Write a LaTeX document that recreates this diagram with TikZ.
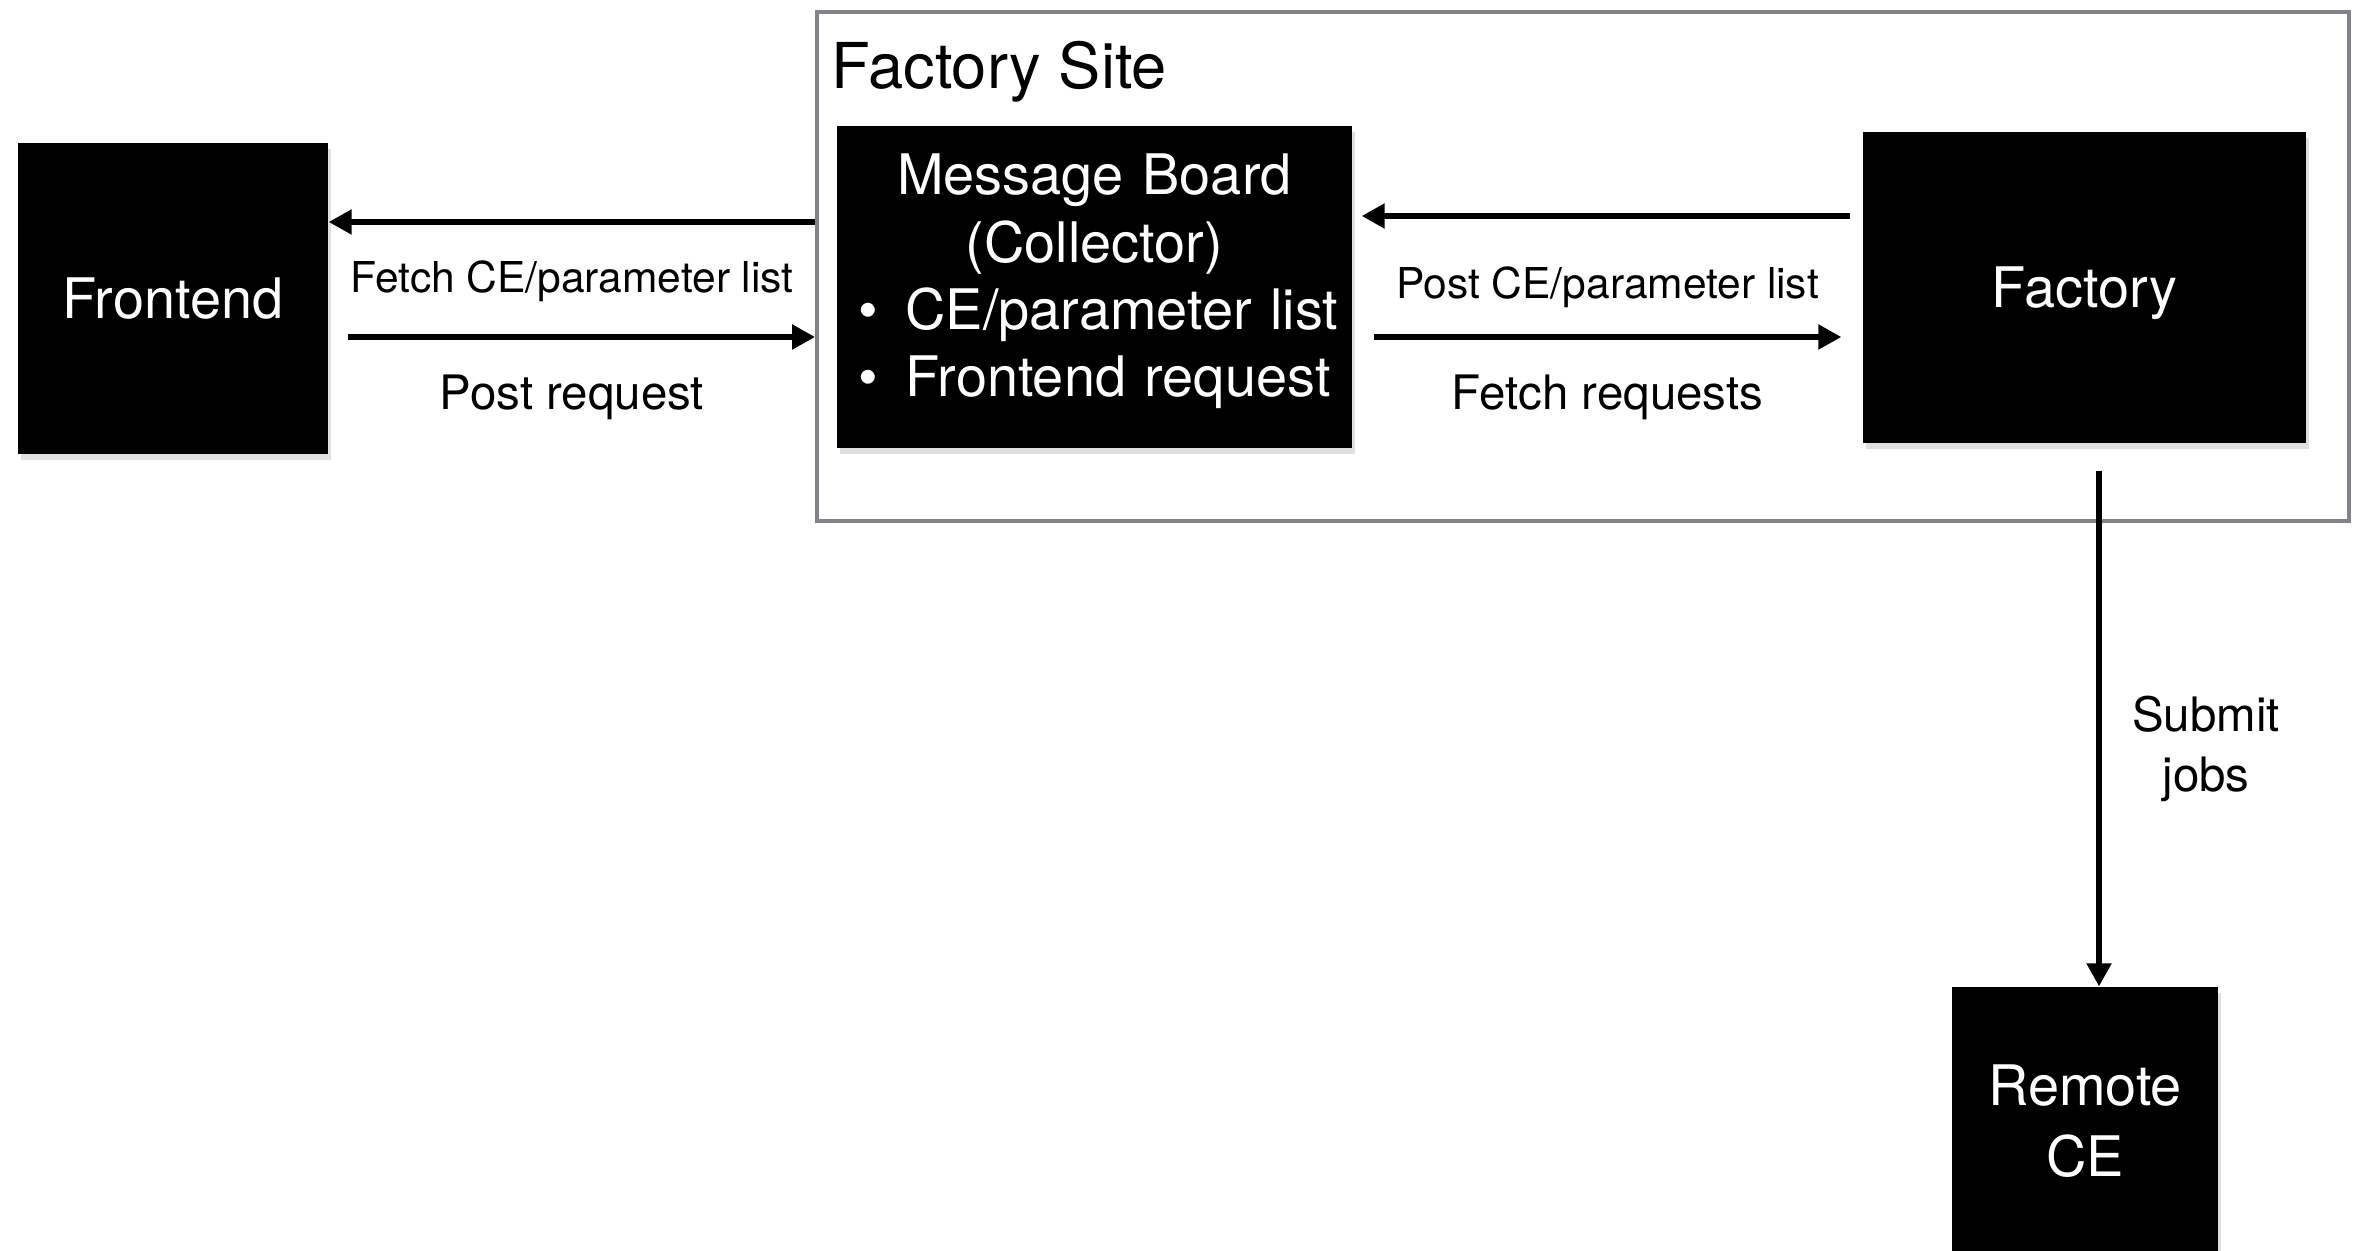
\documentclass[tikz,border=0pt]{standalone}
\usepackage{fontspec}
\setmainfont{TeX Gyre Heros}
\usetikzlibrary{arrows.meta,positioning,calc,shadows}
\definecolor{siteGray}{RGB}{128,131,135}
\tikzset{
  >={Triangle[length=2.3mm,width=2.4mm]},
  blackBox/.style={rectangle,fill=black,text=white,inner sep=0pt,align=center,
    font=\fontsize{15.9}{19.2}\selectfont,
    drop shadow={shadow xshift=0.3mm,shadow yshift=-0.6mm,opacity=0.25}},
  flow/.style={->,line width=1.5pt},
  arrowLabel/.style={font=\fontsize{12.1}{14}\selectfont,inner sep=0pt},
  stepLabel/.style={font=\fontsize{13.5}{17}\selectfont,inner sep=0pt,align=center},
}
\newcommand{\boardItem}[1]{\makebox[5.15cm][l]{\hspace{2.1mm}\textbullet\hspace{2.8mm}#1}}

\begin{document}
\begin{tikzpicture}
\clip (0,0) rectangle (23.56,-12.51);

% ===== Factory Site frame =====
\node[draw=siteGray, line width=1.1pt, minimum width=15.32cm, minimum height=5.09cm, inner sep=0pt] (site) at (15.83,-2.665) {};
\node[anchor=west, font=\fontsize{18}{22}\selectfont, inner sep=0pt] (siteTitle) at (8.31,-0.72) {Factory Site};

% ===== Boxes =====
\node[blackBox, minimum width=3.10cm, minimum height=3.11cm] (frontend) at (1.73,-2.985) {Frontend};
\node[blackBox, minimum width=5.15cm, minimum height=3.22cm] (msgBoard) at (10.945,-2.87) {};
\node[text=white, align=center, inner sep=0pt, text width=5.15cm, font=\fontsize{15.9}{19.2}\selectfont]
  (msgText) at (10.945,-2.815) {Message Board\\(Collector)\\\boardItem{CE/parameter list}\\\boardItem{Frontend request}};
\node[blackBox, text depth=0pt, minimum width=4.43cm, minimum height=3.11cm] (factory) at (20.845,-2.875) {Factory};
\node[blackBox, minimum width=2.66cm, minimum height=2.68cm, font=\fontsize{15.9}{20}\selectfont] (remoteCE) at (20.85,-11.21) {Remote\\CE};

% ===== Connections =====
\coordinate (fetchY) at (0,-2.22);
\coordinate (postY) at (0,-3.37);
\coordinate (factY) at (0,-2.16);
\coordinate (jobX) at (20.99,0);

\draw[flow] (site.west |- fetchY) -- (frontend.east |- fetchY)
  node[arrowLabel, midway, yshift=-5.9mm] (fetchListLbl) {Fetch CE/parameter list};
\draw[flow, shorten <=1.9mm] (frontend.east |- postY) -- (site.west |- postY)
  node[stepLabel, midway, yshift=-6.0mm] (postReqLbl) {Post request};
\draw[flow, shorten <=1.2mm, shorten >=0.9mm] (factory.west |- factY) -- (msgBoard.east |- factY)
  node[arrowLabel, midway, yshift=-7.1mm] (postListLbl) {Post CE/parameter list};
\draw[flow, shorten <=2.1mm, shorten >=2.1mm] (msgBoard.east |- postY) -- (factory.west |- postY)
  node[stepLabel, midway, yshift=-6.0mm] (fetchReqLbl) {Fetch requests};
\draw[flow, shorten <=2.7mm] (factory.south -| jobX) -- (remoteCE.north -| jobX)
  node[stepLabel, midway, xshift=10.7mm, yshift=-3.4mm] (submitLbl) {Submit\\jobs};

\end{tikzpicture}
\end{document}
